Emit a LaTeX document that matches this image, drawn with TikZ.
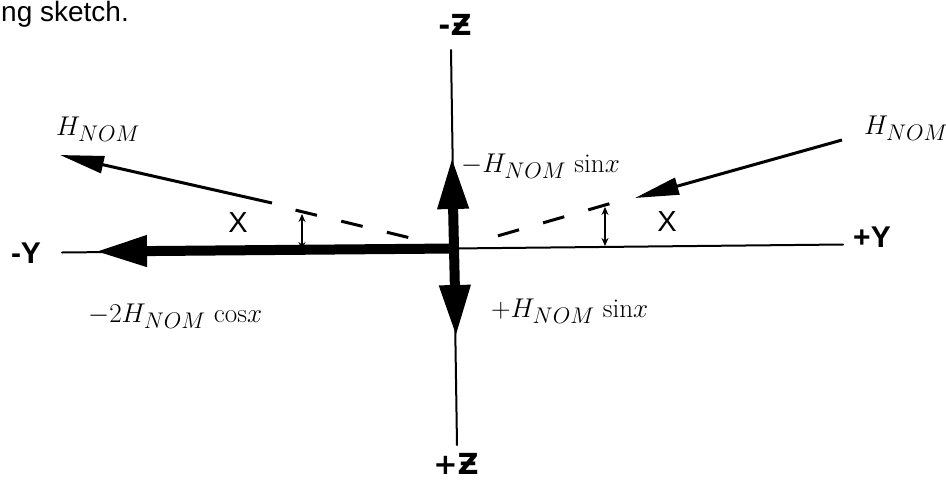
\documentclass[tikz,border=0pt]{standalone}
\usepackage{fontspec}
\newfontfamily\lsans{Liberation Sans}
\newfontfamily\dvs{DejaVu Sans}
\usetikzlibrary{arrows.meta,calc}
\begin{document}
\begin{tikzpicture}[x=1pt,y=-1pt,
  axisline/.style={line width=2pt, line cap=round},
  bigvec/.style={line width=10pt, -{Triangle[length=52pt,width=29pt]}},
  hvec/.style={line width=3pt, -{Triangle[length=44pt,width=17pt]}},
  dashline/.style={line width=3pt, dash pattern=on 22pt off 25pt},
  anglemark/.style={line width=1.5pt, {Stealth[length=8pt,width=7pt]}-{Stealth[length=8pt,width=7pt]}},
  axlabel/.style={inner sep=0pt, font=\lsans\bfseries\fontsize{30}{32}\selectfont},
  zlabel/.style={inner sep=0pt, font=\dvs\bfseries\fontsize{29}{31}\selectfont},
  xlabel/.style={inner sep=0pt, font=\lsans\fontsize{29}{31}\selectfont},
  mlabel/.style={inner sep=0pt, font=\Huge, scale=1.09},
  pagetext/.style={inner sep=0pt, font=\lsans\fontsize{28}{30}\selectfont}]
\useasboundingbox (0,0) rectangle (946,480);

% key points
\coordinate (O) at (454,248.5);
\coordinate (yL) at (62,252.5);
\coordinate (yR) at (843,244.5);
\coordinate (zT) at (451,50);
\coordinate (zB) at (457,445);
\coordinate (tipL) at (95,251.5);
\coordinate (tipU) at (452,157);
\coordinate (tipD) at (456,337);
\coordinate (hLs) at (272,203);
\coordinate (hLt) at (60,155);
\coordinate (hRs) at (842,140);
\coordinate (hRt) at (635,198);
\coordinate (dLe) at (295,210);
\coordinate (dRe) at (612,203);
\coordinate (dLs) at ($(O)!0.2875!(dLe)$);
\coordinate (dRs) at ($(O)!0.278!(dRe)$);
\coordinate (mLt) at (302,214);
\coordinate (mLb) at (302,250);
\coordinate (mRt) at (605,207);
\coordinate (mRb) at (605,246);

% axes
\draw[axisline] (yL) -- (yR);
\draw[axisline] (zT) -- (zB);

% resultant vectors
\draw[bigvec] (O) -- (tipL);
\draw[bigvec] (O) -- (tipU);
\draw[bigvec] (O) -- (tipD);

% H_NOM vectors
\draw[hvec] (hLs) -- (hLt);
\draw[hvec] (hRs) -- (hRt);

% dashed reference lines
\draw[dashline] (dLs) -- (dLe);
\draw[dashline] (dRs) -- (dRe);

% angle markers
\draw[anglemark] (mLt) -- (mLb);
\draw[anglemark] (mRt) -- (mRb);

% labels
\node[pagetext, anchor=base west] (pg) at (1,21) {ng sketch.};
\node[zlabel] (zm) at (455,25) {-Ƶ};
\node[zlabel] (zp) at (456,464) {+Ƶ};
\node[axlabel] (ym) at (26,253) {-Y};
\node[axlabel] (yp) at (872,237) {+Y};
\node[xlabel] (xl) at (238,223) {X};
\node[xlabel] (xr) at (667,222) {X};
\node[mlabel] (hl) at (98,129) {$H_{NOM}$};
\node[mlabel] (hr) at (906,128) {$H_{NOM}$};
\node[mlabel, anchor=west] (hs1) at (461,166) {$-H_{NOM}\ \mathrm{sin}x$};
\node[mlabel, anchor=west] (hs2) at (491,311) {$+H_{NOM}\ \mathrm{sin}x$};
\node[mlabel, anchor=west] (hc) at (88,316) {$-2H_{NOM}\ \mathrm{cos}x$};
\end{tikzpicture}
\end{document}
